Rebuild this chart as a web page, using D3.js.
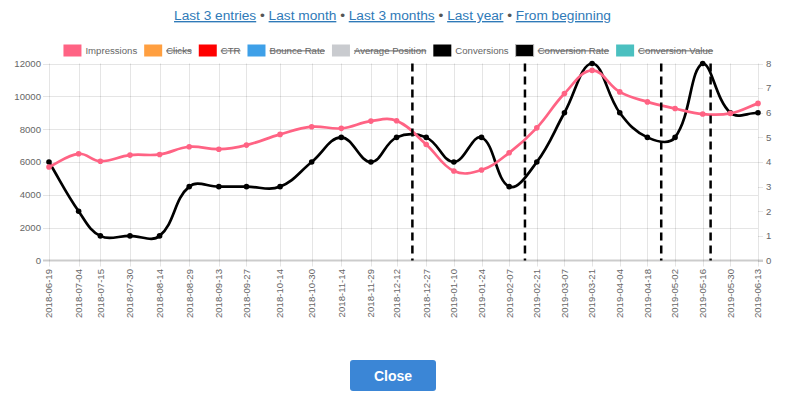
<!DOCTYPE html>
<html>
<head>
<meta charset="utf-8">
<script src="https://cdn.jsdelivr.net/npm/d3@7"></script>
<style>
  body { margin: 0; background: #fff; }
  svg { display: block; font-family: "Liberation Sans", Arial, sans-serif; }
</style>
</head>
<body>
<svg id="chart" width="785" height="397"></svg>
<script>
// data
const dates = ["2018-06-19","2018-07-04","2018-07-15","2018-07-30","2018-08-14","2018-08-29","2018-09-13",
  "2018-09-27","2018-10-14","2018-10-30","2018-11-14","2018-11-29","2018-12-12","2018-12-27","2019-01-10",
  "2019-01-24","2019-02-07","2019-02-21","2019-03-07","2019-03-21","2019-04-04","2019-04-18","2019-05-02",
  "2019-05-16","2019-05-30","2019-06-13"];
const impressions = [5700, 6500, 6050, 6420, 6460, 6930, 6780, 7030, 7680, 8150, 8050, 8490, 8510, 7070,
  5450, 5510, 6560, 8080, 10170, 11580, 10270, 9660, 9260, 8920, 8960, 9570];
const conversions = [4, 2, 1, 1, 1, 3, 3, 3, 3, 4, 5, 4, 5, 5, 4, 5, 3, 4, 6, 8, 6, 5, 5, 8, 6, 6];
const markerDates = ["2018-12-20", "2019-02-15", "2019-04-25", "2019-05-20"];
const leftTicks = [0, 2000, 4000, 6000, 8000, 10000, 12000];
const rightTicks = [0, 1, 2, 3, 4, 5, 6, 7, 8];
const legendLabels = ["Impressions", "Clicks", "CTR", "Bounce Rate", "Average Position", "Conversions", "Conversion Rate", "Conversion Value"];
const legendColors = ["#ff6384", "#ff9f40", "#ff0000", "#3ea0e8", "#c9cbcf", "#000000", "#000000", "#4bc0c0"];
const legendHidden = [false, true, true, true, true, false, true, true];
const links = ["Last 3 entries", "Last month", "Last 3 months", "Last year", "From beginning"];

const svg = d3.select("#chart");
const parse = d3.utcParse("%Y-%m-%d");
const area = { left: 49, right: 758, top: 63.5, bottom: 260.5 };

const x = d3.scaleUtc().domain([parse(dates[0]), parse(dates[dates.length - 1])]).range([area.left, area.right]);
const yL = d3.scaleLinear().domain([0, 12000]).range([area.bottom, area.top]);
const yR = d3.scaleLinear().domain([0, 8]).range([area.bottom, area.top]);

// chart.js style bezier (tension 0.4, control points capped to the chart area)
function curveChartjs(context) {
  return {
    areaStart() {}, areaEnd() {},
    lineStart() { this.pts = []; },
    point(px, py) { this.pts.push([px, py]); },
    lineEnd() {
      const p = this.pts, t = 0.4, cps = [];
      const cap = (v, lo, hi) => Math.max(lo, Math.min(hi, v));
      for (let i = 0; i < p.length; i++) {
        const prev = p[i - 1] || p[i], cur = p[i], next = p[i + 1] || p[i];
        const d01 = Math.hypot(cur[0] - prev[0], cur[1] - prev[1]);
        const d12 = Math.hypot(next[0] - cur[0], next[1] - cur[1]);
        let s01 = d01 / (d01 + d12), s12 = d12 / (d01 + d12);
        if (isNaN(s01)) s01 = 0;
        if (isNaN(s12)) s12 = 0;
        const fa = t * s01, fb = t * s12;
        const c1 = [cur[0] - fa * (next[0] - prev[0]), cur[1] - fa * (next[1] - prev[1])];
        const c2 = [cur[0] + fb * (next[0] - prev[0]), cur[1] + fb * (next[1] - prev[1])];
        [c1, c2].forEach(c => { c[0] = cap(c[0], area.left, area.right); c[1] = cap(c[1], area.top, area.bottom); });
        cps.push([c1, c2]);
      }
      context.moveTo(p[0][0], p[0][1]);
      for (let i = 1; i < p.length; i++) {
        context.bezierCurveTo(cps[i - 1][1][0], cps[i - 1][1][1], cps[i][0][0], cps[i][0][1], p[i][0], p[i][1]);
      }
    }
  };
}

// header links
const header = svg.append("text")
  .attr("x", 392.5).attr("y", 20)
  .attr("text-anchor", "middle")
  .style("font-size", "13.7px");
links.forEach((l, i) => {
  if (i > 0) header.append("tspan").attr("fill", "#555").text(" \u2022 ");
  header.append("tspan").attr("fill", "#2f7ab8").style("text-decoration", "underline").text(l);
});

// legend
const legend = svg.append("g").style("font-size", "9.6px");
const items = legendLabels.map((lab, i) => {
  const g = legend.append("g");
  g.append("rect").attr("width", 18).attr("height", 12)
    .attr("fill", legendColors[i])
    .attr("stroke", i === 6 ? "#bbb" : "none").attr("stroke-width", 1);
  const txt = g.append("text").attr("x", 22).attr("y", 6).attr("dy", "0.35em")
    .attr("fill", "#666")
    .style("text-decoration", legendHidden[i] ? "line-through" : "none")
    .text(lab);
  return { g, w: 22 + txt.node().getComputedTextLength() };
});
const gap = 7;
const totalW = d3.sum(items, d => d.w) + gap * (items.length - 1);
let lx = 388.3 - totalW / 2;
items.forEach(it => { it.g.attr("transform", `translate(${lx},44.5)`); lx += it.w + gap; });

// grid
const grid = svg.append("g").attr("stroke", "rgba(0,0,0,0.1)").attr("stroke-width", 1);
grid.selectAll("line.v").data(dates).enter().append("line")
  .attr("x1", d => Math.round(x(parse(d))) + 0.5).attr("x2", d => Math.round(x(parse(d))) + 0.5)
  .attr("y1", area.top).attr("y2", area.bottom + 6);
grid.selectAll("line.h").data(leftTicks.filter(v => v > 0)).enter().append("line")
  .attr("x1", area.left - 6).attr("x2", area.right)
  .attr("y1", d => Math.round(yL(d)) + 0.5).attr("y2", d => Math.round(yL(d)) + 0.5);
svg.append("g").attr("stroke", "rgba(0,0,0,0.1)")
  .selectAll("line").data(rightTicks).enter().append("line")
  .attr("x1", area.right).attr("x2", area.right + 5)
  .attr("y1", d => Math.round(yR(d)) + 0.5).attr("y2", d => Math.round(yR(d)) + 0.5);
svg.append("line").attr("stroke", "rgba(0,0,0,0.2)").attr("stroke-width", 2)
  .attr("x1", area.left - 6).attr("x2", area.right + 5)
  .attr("y1", yL(0)).attr("y2", yL(0));

// axes labels
svg.append("g").attr("fill", "#666").style("font-size", "9.6px").attr("text-anchor", "end")
  .selectAll("text").data(leftTicks).enter().append("text")
  .attr("x", 41).attr("y", d => yL(d)).attr("dy", "0.35em").text(d => d);
svg.append("g").attr("fill", "#666").style("font-size", "9.6px")
  .selectAll("text").data(rightTicks).enter().append("text")
  .attr("x", 766).attr("y", d => yR(d)).attr("dy", "0.35em").text(d => d);
svg.append("g").attr("fill", "#666").style("font-size", "9.6px").attr("text-anchor", "end")
  .selectAll("text").data(dates).enter().append("text")
  .attr("transform", d => `translate(${x(parse(d))},269) rotate(-90)`)
  .attr("dy", "0.35em").text(d => d);

// series
const conv = dates.map((d, i) => [x(parse(d)), yR(conversions[i])]);
const impr = dates.map((d, i) => [x(parse(d)), yL(impressions[i])]);
const line = d3.line().curve(curveChartjs);

function drawSeries(pts, color) {
  svg.append("path").attr("d", line(pts)).attr("fill", "none")
    .attr("stroke", color).attr("stroke-width", 2.7);
  svg.append("g").selectAll("circle").data(pts).enter().append("circle")
    .attr("cx", d => d[0]).attr("cy", d => d[1]).attr("r", 2.8).attr("fill", color);
}
drawSeries(conv, "#000");
drawSeries(impr, "#ff6384");

// dashed markers
svg.append("g").selectAll("line").data(markerDates).enter().append("line")
  .attr("x1", d => x(parse(d))).attr("x2", d => x(parse(d)))
  .attr("y1", area.top).attr("y2", area.bottom)
  .attr("stroke", "#000").attr("stroke-width", 2.5).attr("stroke-dasharray", "8,5");

// close button
const btn = svg.append("g");
btn.append("rect").attr("x", 350).attr("y", 360).attr("width", 86).attr("height", 31).attr("rx", 3)
  .attr("fill", "#3b86d6");
btn.append("text").attr("x", 393).attr("y", 376).attr("dy", "0.35em").attr("text-anchor", "middle")
  .attr("fill", "#fff").style("font-size", "14px").style("font-weight", "bold").text("Close");
</script>
</body>
</html>
